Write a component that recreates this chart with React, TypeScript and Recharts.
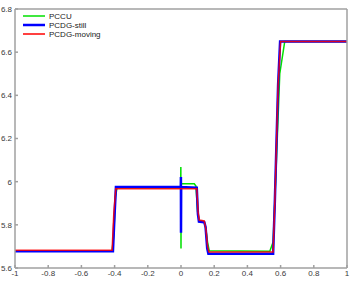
import { LineChart, Line, XAxis, YAxis } from 'recharts';

// x ticks / y ticks
const xTicks = [-1, -0.8, -0.6, -0.4, -0.2, 0, 0.2, 0.4, 0.6, 0.8, 1];
const yTicks = [5.6, 5.8, 6, 6.2, 6.4, 6.6, 6.8];

// PCCU
const pccuX = [-1, -0.415, -0.405, -0.395, -0.385, -0.002, -0.001, 0, 0.001, 0.08, 0.09, 0.1, 0.11, 0.14, 0.15, 0.16, 0.17, 0.535, 0.555, 0.575, 0.595, 0.625, 1];
const pccuY = [5.68, 5.68, 5.75, 5.93, 5.972, 5.972, 6.068, 5.69, 5.99, 5.99, 5.98, 5.86, 5.82, 5.815, 5.78, 5.72, 5.68, 5.678, 5.72, 6.1, 6.5, 6.65, 6.65];

// PCDG-still
const stillX = [-1, -0.41, -0.4, -0.392, -0.001, -0.0005, 0, 0.001, 0.095, 0.102, 0.108, 0.14, 0.148, 0.158, 0.165, 0.555, 0.565, 0.585, 0.597, 1];
const stillY = [5.678, 5.678, 5.85, 5.975, 5.975, 6.022, 5.763, 5.975, 5.972, 5.85, 5.815, 5.812, 5.79, 5.69, 5.666, 5.666, 5.9, 6.45, 6.65, 6.65];

// PCDG-moving
const movingX = [-1, -0.415, -0.405, -0.393, 0.095, 0.103, 0.11, 0.14, 0.15, 0.16, 0.168, 0.555, 0.565, 0.585, 0.6, 1];
const movingY = [5.682, 5.682, 5.85, 5.967, 5.967, 5.86, 5.822, 5.818, 5.78, 5.7, 5.674, 5.674, 5.9, 6.45, 6.65, 6.65];

const toPoints = (xs: number[], ys: number[]) => xs.map((x, i) => ({ x, y: ys[i] }));

const series = [
  { name: 'PCCU', color: '#00e000', width: 1.5, data: toPoints(pccuX, pccuY) },
  { name: 'PCDG-still', color: '#0000ff', width: 2.5, data: toPoints(stillX, stillY) },
  { name: 'PCDG-moving', color: '#ff0000', width: 1.5, data: toPoints(movingX, movingY) },
];

const axisColor = '#a0a0a0';
const font = 'Liberation Sans, Arial, sans-serif';
const tickStyle = { fontSize: 8, fill: '#3a3a3a', fontFamily: font };
const fmt = (v: number) => String(Math.round(v * 10) / 10);

function LegendBox() {
  return (
    <svg width={90} height={30} style={{ position: 'absolute', left: 21, top: 11 }}>
      {series.map((s, i) => (
        <g key={s.name}>
          <line x1={2} x2={24} y1={5 + i * 9} y2={5 + i * 9} stroke={s.color} strokeWidth={s.width} />
          <text x={28} y={5 + i * 9} dy="0.35em" fontSize={8} fill="#222" fontFamily={font}>
            {s.name}
          </text>
        </g>
      ))}
    </svg>
  );
}

export default function App() {
  return (
    <div style={{ position: 'absolute', left: 0, top: 0, width: 354, height: 281, background: '#fff' }}>
      <LineChart width={354} height={281} margin={{ top: 8, right: 6, bottom: 0, left: 0 }}>
        <XAxis
          xAxisId="b"
          dataKey="x"
          type="number"
          domain={[-1, 1]}
          ticks={xTicks}
          tickFormatter={fmt}
          tick={tickStyle}
          tickSize={-3}
          tickMargin={5}
          height={13}
          stroke={axisColor}
          strokeWidth={1.5}
        />
        <XAxis
          xAxisId="t"
          orientation="top"
          type="number"
          domain={[-1, 1]}
          ticks={xTicks}
          tickFormatter={() => ''}
          tickSize={-3}
          height={1}
          stroke={axisColor}
          strokeWidth={1.5}
        />
        <YAxis
          yAxisId="l"
          type="number"
          domain={[5.6, 6.8]}
          ticks={yTicks}
          tickFormatter={fmt}
          tick={tickStyle}
          tickSize={-3}
          tickMargin={6}
          width={15}
          stroke={axisColor}
          strokeWidth={1.5}
        />
        <YAxis
          yAxisId="r"
          orientation="right"
          type="number"
          domain={[5.6, 6.8]}
          ticks={yTicks}
          tickFormatter={() => ''}
          tickSize={-3}
          width={1}
          stroke={axisColor}
          strokeWidth={1.5}
        />
        {series.map((s) => (
          <Line
            key={s.name}
            xAxisId="b"
            yAxisId="l"
            data={s.data}
            dataKey="y"
            name={s.name}
            type="linear"
            stroke={s.color}
            strokeWidth={s.width}
            strokeOpacity={s.name === 'PCDG-moving' ? 0.85 : 1}
            dot={false}
            activeDot={false}
            isAnimationActive={false}
          />
        ))}
      </LineChart>
      <LegendBox />
    </div>
  );
}
